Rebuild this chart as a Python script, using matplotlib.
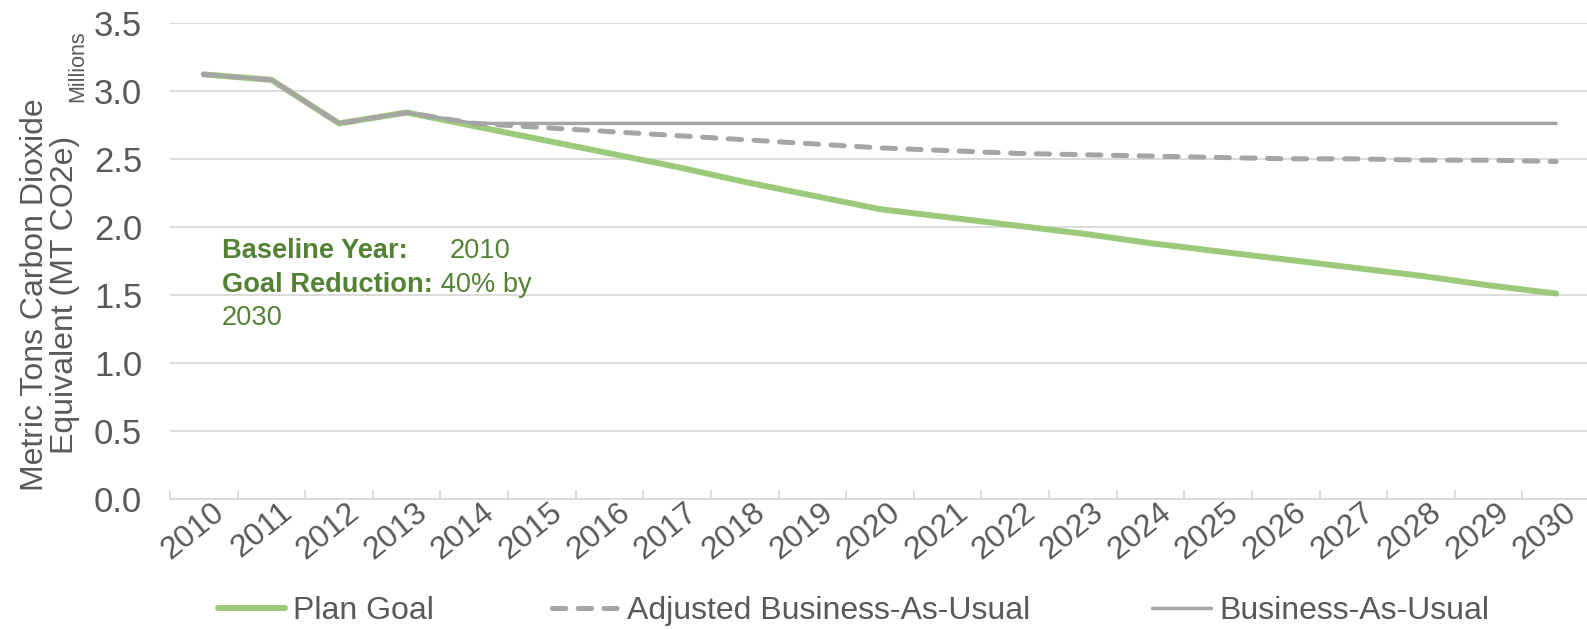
import matplotlib
matplotlib.use("Agg")
import matplotlib.pyplot as plt
from matplotlib.lines import Line2D

years = [str(y) for y in range(2010, 2031)]
plan_goal = [3.12, 3.08, 2.76, 2.84, 2.74, 2.64, 2.54, 2.44, 2.33, 2.23, 2.13,
             2.07, 2.01, 1.95, 1.88, 1.82, 1.76, 1.70, 1.64, 1.57, 1.51]
adjusted_bau = [3.12, 3.08, 2.76, 2.84, 2.76, 2.73, 2.70, 2.67, 2.64, 2.61, 2.58,
                2.56, 2.54, 2.53, 2.52, 2.51, 2.50, 2.50, 2.49, 2.49, 2.48]
bau = [3.12, 3.08, 2.76, 2.84, 2.76, 2.76, 2.76, 2.76, 2.76, 2.76, 2.76,
       2.76, 2.76, 2.76, 2.76, 2.76, 2.76, 2.76, 2.76, 2.76, 2.76]
series_names = ["Plan Goal", "Adjusted Business-As-Usual", "Business-As-Usual"]
y_ticks = [0.0, 0.5, 1.0, 1.5, 2.0, 2.5, 3.0, 3.5]

GREEN = "#9DC97A"
GRAY = "#A5A5A5"
TEXT = "#595959"
DARK_GREEN = "#548235"
GRID = "#D9D9D9"

plt.rcParams["font.family"] = ["Liberation Sans", "DejaVu Sans"]

W, H = 1587, 629
fig = plt.figure(figsize=(W / 100, H / 100), dpi=100)
ax = fig.add_axes([170 / W, 1 - 499 / H, 1420 / W, (499 - 22.7) / H])

x = list(range(len(years)))
ax.plot(x, plan_goal, color=GREEN, lw=4.3, solid_capstyle="round", solid_joinstyle="round", zorder=3)
dash_line, = ax.plot(x, adjusted_bau, color=GRAY, lw=3.6, dash_capstyle="round", zorder=4)
dash_line.set_dashes((2.66, 2.48))
ax.plot(x, bau, color=GRAY, lw=2.5, solid_capstyle="round", zorder=5)

ax.set_xlim(-0.5, len(years) - 0.5)
ax.set_ylim(0, 3.5)
ax.set_yticks(y_ticks)
ax.set_yticklabels([f"{v:.1f}" for v in y_ticks], fontsize=25, color=TEXT)
ax.tick_params(axis="y", length=0, pad=20)
ax.grid(axis="y", color=GRID, lw=1.3)
ax.set_axisbelow(True)

# year labels sit a little right of each category centre, tick marks on the boundaries
label_offset = 0.25
ax.set_xticks([i + label_offset for i in x])
ax.set_xticklabels(years, rotation=39, ha="right", va="center", rotation_mode="anchor",
                   fontsize=23, color=TEXT)
ax.set_xticks([i - 0.5 for i in range(len(years) + 1)], minor=True)
ax.tick_params(axis="x", which="major", length=0, pad=7)
ax.tick_params(axis="x", which="minor", length=6.5, direction="in", color=GRID, width=1.3)

for side in ["left", "right", "top"]:
    ax.spines[side].set_visible(False)
ax.spines["bottom"].set_color(GRID)
ax.spines["bottom"].set_linewidth(1.3)

fig.text(50 / W, 1 - 295 / H, "Metric Tons Carbon Dioxide\nEquivalent (MT CO2e)",
         rotation=90, ha="center", va="center", fontsize=23, color=TEXT, linespacing=1.0)
fig.text(78 / W, 1 - 66 / H, "Millions", rotation=90, ha="center", va="center",
         fontsize=15.5, color=TEXT)

# annotation, bold label followed by plain value
fs = 19.6
fig.text(222 / W, 1 - 258 / H, "Baseline Year:", fontsize=fs, fontweight="bold",
         color=DARK_GREEN, va="baseline")
fig.text(450 / W, 1 - 258 / H, "2010", fontsize=fs, color=DARK_GREEN, va="baseline")
t2 = fig.text(222 / W, 1 - 292 / H, "Goal Reduction:", fontsize=fs, fontweight="bold",
              color=DARK_GREEN, va="baseline")
ax.annotate(" 40% by", xy=(1, 0), xycoords=t2, fontsize=fs, color=DARK_GREEN, va="bottom")
fig.text(222 / W, 1 - 325 / H, "2030", fontsize=fs, color=DARK_GREEN, va="baseline")

# legend entries spread like the original
handles = [
    Line2D([], [], color=GREEN, lw=4.3, solid_capstyle="round"),
    Line2D([], [], color=GRAY, lw=3.6, dashes=(2.66, 2.48), dash_capstyle="round"),
    Line2D([], [], color=GRAY, lw=2.5, solid_capstyle="round"),
]
for h, name, left, hl in zip(handles, series_names, [218, 552, 1152], [2.1, 2.1, 1.85]):
    leg = fig.legend([h], [name], loc="center left", bbox_to_anchor=(left / W, 1 - 611 / H),
                     frameon=False, handlelength=hl, handletextpad=0.25, borderpad=0,
                     borderaxespad=0, prop={"size": 23})
    for t in leg.get_texts():
        t.set_color(TEXT)

fig.savefig("out.png", dpi=100)
